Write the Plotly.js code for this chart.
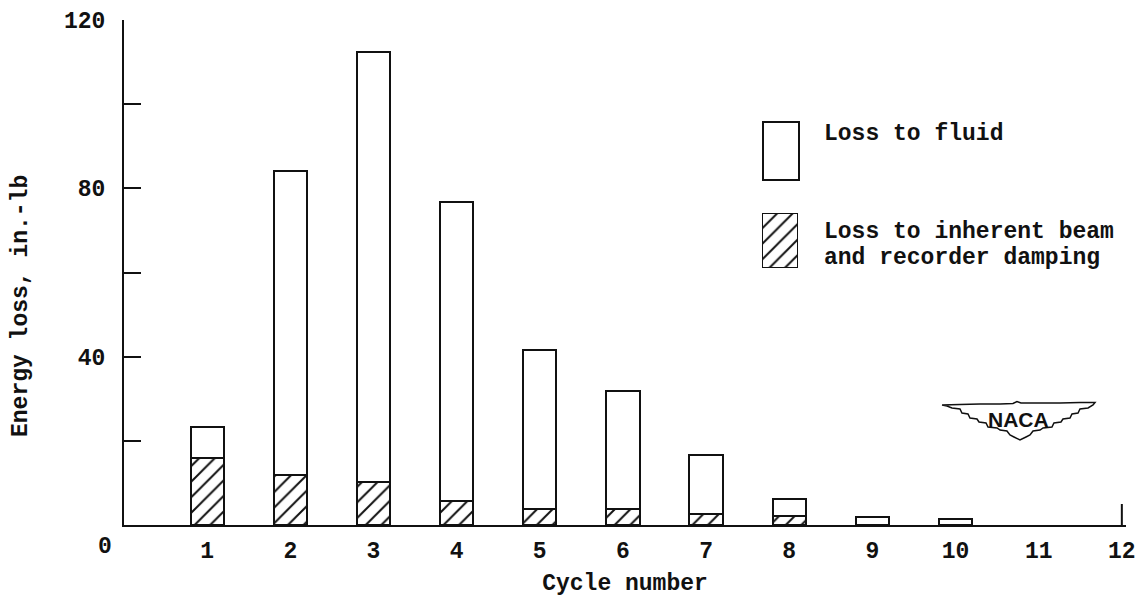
<!DOCTYPE html>
<html>
<head>
<meta charset="utf-8">
<script src="https://cdn.plot.ly/plotly-3.0.1.min.js"></script>
<style>html,body{margin:0;padding:0;background:#fff;}</style>
</head>
<body>
<div id="chart" style="width:1144px;height:607px;"></div>
<script>
// ---- data ----
var cycles = [1, 2, 3, 4, 5, 6, 7, 8, 9, 10];
var dampingLoss = [16, 12, 10.2, 5.8, 3.8, 3.8, 2.7, 2.2, 0, 0];
var fluidLoss = [7.3, 72.1, 102.3, 70.9, 37.8, 28.1, 14, 4, 1.9, 1.4];
var xTickVals = [1, 2, 3, 4, 5, 6, 7, 8, 9, 10, 11, 12];
var xTickText = ['1', '2', '3', '4', '5', '6', '7', '8', '9', '10', '11', '12'];
var yTickVals = [0, 20, 40, 60, 80, 100, 120];
var yTickText = ['', '', '40', '', '80', '', '120'];
var legendFluid = 'Loss to fluid';
var legendDamping1 = 'Loss to inherent beam';
var legendDamping2 = 'and recorder damping';

// ---- geometry helpers (pixel -> paper) ----
var L = 124, R = 18, T = 20, B = 82, W = 1144, H = 607;
var pw = W - L - R, ph = H - T - B;
function px(x) { return (x - L) / pw; }
function py(y) { return (H - B - y) / ph; }

var FONT = 'Liberation Mono, Courier New, monospace';
var INK = '#111111';
var FS = 23;
function tf() { return {family: FONT, size: FS, color: INK, weight: 'bold'}; }

var traces = [
  {
    type: 'bar', x: cycles, y: dampingLoss, width: 0.4,
    marker: {
      color: '#ffffff',
      line: {color: INK, width: 2},
      pattern: {shape: '/', size: 11, solidity: 0.18, fgcolor: INK, bgcolor: '#ffffff', fillmode: 'replace'}
    },
    hoverinfo: 'x+y', showlegend: false
  },
  {
    type: 'bar', x: cycles, y: fluidLoss, width: 0.4,
    marker: {color: '#ffffff', line: {color: INK, width: 2}},
    hoverinfo: 'x+y', showlegend: false
  },
  // legend swatch for hatched series
  {
    type: 'bar', x: [0.5], y: [1], width: 1, xaxis: 'x2', yaxis: 'y2',
    marker: {
      color: '#ffffff',
      line: {color: INK, width: 2},
      pattern: {shape: '/', size: 11, solidity: 0.18, fgcolor: INK, bgcolor: '#ffffff', fillmode: 'replace'}
    },
    hoverinfo: 'skip', showlegend: false
  }
];

// NACA wing outline (pixel coords)
var wing = [[942,405],[960,404.5],[980,404],[1000,404],[1013,403.5],[1017,401.5],[1021,403],[1040,403],[1060,403],[1080,402.5],[1095,402.5],
  [1093,405],[1088,408],[1080,409],[1078,413],[1072,414],[1070,418],[1063,419],[1061,422],[1054,423],[1052,427],[1043,428],[1040,430],[1033,431],[1030,435],[1026,437],[1020,440],
  [1014,437],[1010,435],[1007,431],[1000,430],[997,428],[988,427],[986,423],[979,422],[977,419],[970,418],[968,414],[962,413],[960,409],[952,408],[947,406]];
var wingPath = 'M ' + wing.map(function(p){ return px(p[0]).toFixed(4) + ',' + py(p[1]).toFixed(4); }).join(' L ') + ' Z';

var layout = {
  width: W, height: H,
  margin: {l: L, r: R, t: T, b: B},
  paper_bgcolor: '#ffffff', plot_bgcolor: '#ffffff',
  barmode: 'stack',
  showlegend: false,
  font: tf(),
  xaxis: {
    range: [0, 12.05], showgrid: false, zeroline: false,
    showline: true, linecolor: INK, linewidth: 2,
    tickmode: 'array', tickvals: xTickVals, ticktext: xTickText,
    ticks: '', ticklabelstandoff: 3,
    tickfont: tf(),
    title: {text: 'Cycle number', font: tf(), standoff: 10}
  },
  yaxis: {
    range: [0, 120], showgrid: false, zeroline: false,
    showline: true, linecolor: INK, linewidth: 2,
    tickmode: 'array', tickvals: yTickVals, ticktext: yTickText,
    ticks: 'inside', ticklen: 17, tickwidth: 2, tickcolor: INK,
    ticklabelstandoff: 12,
    tickfont: tf()
  },
  xaxis2: {domain: [px(762), px(798)], range: [0, 1], visible: false, fixedrange: true, anchor: 'y2'},
  yaxis2: {domain: [py(268), py(213)], range: [0, 1], visible: false, fixedrange: true, anchor: 'x2'},
  shapes: [
    // legend box for fluid
    {type: 'rect', xref: 'paper', yref: 'paper', x0: px(763), x1: px(799), y0: py(180), y1: py(122),
     line: {color: INK, width: 2}, fillcolor: 'rgba(0,0,0,0)'},
    // end tick at 12
    {type: 'line', xref: 'x', yref: 'paper', x0: 12, x1: 12, y0: 0, y1: py(504),
     line: {color: INK, width: 2}},
    // NACA wings
    {type: 'path', xref: 'paper', yref: 'paper', path: wingPath, line: {color: INK, width: 1.5}, fillcolor: '#ffffff'}
  ],
  annotations: [
    {text: 'Energy loss, in.-lb', xref: 'paper', yref: 'paper', x: px(21), y: py(306),
     textangle: -90, showarrow: false, xanchor: 'center', yanchor: 'middle', font: tf()},
    {text: '0', xref: 'paper', yref: 'paper', x: px(105), y: py(547), showarrow: false,
     xanchor: 'center', yanchor: 'middle', font: tf()},
    {text: legendFluid, xref: 'paper', yref: 'paper', x: px(822), y: py(134), showarrow: false,
     xanchor: 'left', yanchor: 'middle', font: tf()},
    {text: legendDamping1, xref: 'paper', yref: 'paper', x: px(822), y: py(232), showarrow: false,
     xanchor: 'left', yanchor: 'middle', font: tf()},
    {text: legendDamping2, xref: 'paper', yref: 'paper', x: px(822), y: py(258), showarrow: false,
     xanchor: 'left', yanchor: 'middle', font: tf()},
    {text: '<b>NACA</b>', xref: 'paper', yref: 'paper', x: px(1018), y: py(419), showarrow: false,
     xanchor: 'center', yanchor: 'middle', font: {family: 'Liberation Sans, Arial, sans-serif', size: 21, color: INK}}
  ]
};

Plotly.newPlot('chart', traces, layout, {displayModeBar: false, staticPlot: true});
</script>
</body>
</html>
